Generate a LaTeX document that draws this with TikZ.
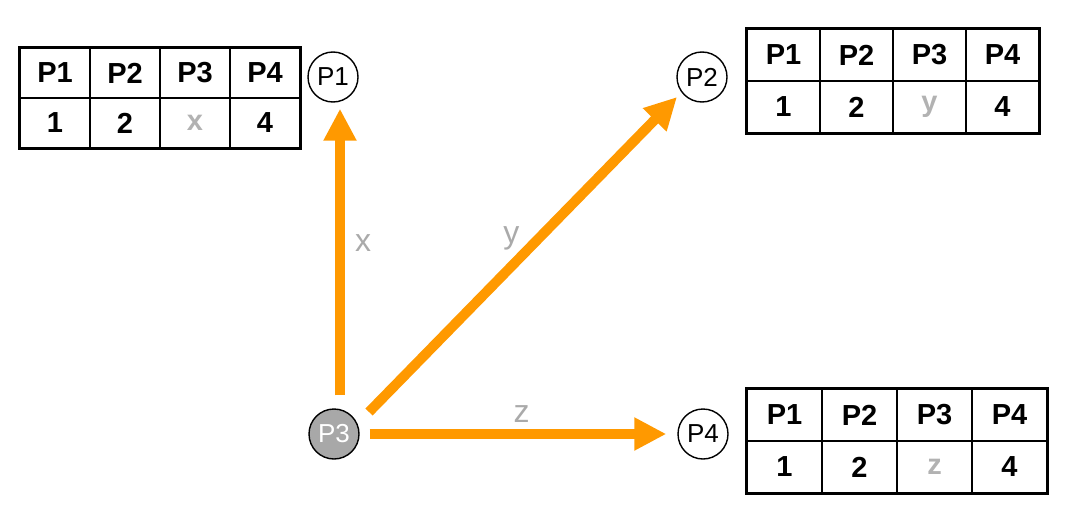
\documentclass[tikz,border=0pt]{standalone}
\usepackage{fontspec}
\setmainfont{Liberation Sans}
\usetikzlibrary{arrows.meta,positioning}

\definecolor{flowor}{RGB}{255,153,0}
\definecolor{lblgray}{RGB}{170,170,170}
\definecolor{valgray}{RGB}{178,178,178}
\definecolor{procgray}{RGB}{168,168,168}

\begin{document}
\begin{tikzpicture}[
    x=1pt,y=-1pt,
    cell/.style={draw=black,line width=1.6pt,inner sep=0pt,
        font=\fontsize{29}{34}\selectfont\bfseries},
    proc/.style={circle,draw=black,line width=1.4pt,fill=white,
        minimum size=50pt,inner sep=0pt,font=\fontsize{26}{30}\selectfont},
    sender/.style={proc,fill=procgray,text=white},
    flow/.style={draw=flowor,line width=10pt,
        -{Triangle[length=32pt,width=31pt]}},
    lbl/.style={text=lblgray,inner sep=0pt,font=\fontsize{32}{36}\selectfont}
]
% pixel-sized canvas, y grows downwards
\path[use as bounding box] (0,0) rectangle (1090,522);

% the three tables: name / left / top / cell width / cell height / value
\foreach \tab/\x/\y/\w/\h/\val in {ta/20/48/70/50/x,
                                   tb/747/29/73/52/y,
                                   tc/747/389/75/52/z}{
    \foreach \name [count=\i] in {P1,P2,P3,P4}{
        \node[cell,minimum width=\w pt,minimum height=\h pt] (\tab-h\i)
            at ({\x+\w*(\i-0.5)},{\y+\h/2}) {\name};
    }
    \foreach \v/\col [count=\i] in {1/black,2/black,\val/valgray,4/black}{
        \node[cell,text=\col,minimum width=\w pt,minimum height=\h pt] (\tab-v\i)
            at ({\x+\w*(\i-0.5)},{\y+\h*1.5}) {\v};
    }
    \draw[line width=3pt] (\tab-h1.north west) rectangle (\tab-v4.south east);
}

\node[proc] (p1) at (333,77) {P1};
\node[proc] (p2) at (702,77) {P2};
\node[sender] (p3) at (334,434) {P3};
\node[proc] (p4) at (703,434) {P4};

\draw[flow,shorten <=13pt,shorten >=6pt] ([xshift=6pt]p3.north)
    -- node[lbl,pos=0.54,right=10pt] (lx) {x} ([xshift=6pt]p3.north |- p1.south);
\draw[flow] ([shift={(35,-22)}]p3.center)
    -- node[lbl,pos=0.55,left=14pt] (ly) {y} ([shift={(-25,20)}]p2.center);
\draw[flow,shorten <=10pt,shorten >=11pt] (p3.east)
    -- node[lbl,pos=0.51,above=7pt] (lz) {z} (p4.west);
\end{tikzpicture}
\end{document}
